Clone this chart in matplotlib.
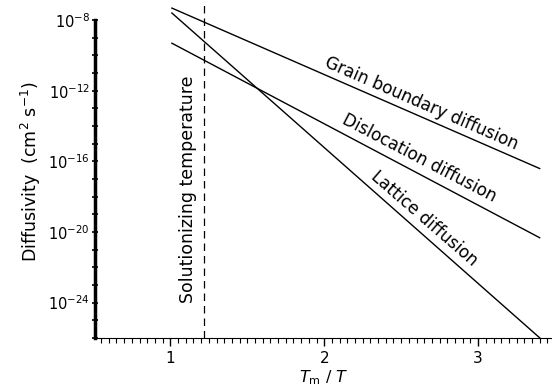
import numpy as np
import matplotlib.pyplot as plt
from matplotlib.ticker import FixedLocator, MultipleLocator, NullFormatter

# endpoints of the three lines (x = Tm/T, y = log10 diffusivity)
x_ends = [1.01, 3.40]
grain_boundary = [-7.32, -16.41]
dislocation = [-9.31, -20.33]
lattice = [-7.60, -26.0]
solution_temp = 1.22

line_names = ["Grain boundary diffusion", "Dislocation diffusion", "Lattice diffusion"]
label_x = [2.63, 2.62, 2.65]
label_y = [-12.72, -15.84, -19.25]
label_rot = [-23.5, -27.5, -41.0]

fig = plt.figure(figsize=(5.52, 3.91), dpi=100)
ax = fig.add_axes([0.172, 0.136, 0.828, 0.851])

for series in [grain_boundary, dislocation, lattice]:
    ax.plot(x_ends, 10.0 ** np.array(series), color="black", lw=1.0)

ax.axvline(solution_temp, color="black", lw=0.9, ls=(0, (6, 4)))
ax.text(solution_temp - 0.105, 10.0 ** -17.6, "Solutionizing temperature",
        rotation=90, ha="center", va="center", fontsize=12.5)

for name, tx, ty, rot in zip(line_names, label_x, label_y, label_rot):
    ax.text(tx, 10.0 ** ty, name, rotation=rot, ha="center", va="center",
            fontsize=12.2, rotation_mode="anchor")

ax.set_yscale("log")
ax.set_ylim(1e-26, 10 ** -7.15)
ax.set_xlim(0.51, 3.48)

ax.spines["top"].set_visible(False)
ax.spines["right"].set_visible(False)
ax.spines["left"].set_bounds(1e-26, 1e-8)
ax.spines["left"].set_linewidth(2.5)

ax.yaxis.set_major_locator(FixedLocator([1e-8, 1e-12, 1e-16, 1e-20, 1e-24]))
ax.yaxis.set_minor_locator(FixedLocator([10.0 ** k for k in range(-26, -7)]))
ax.yaxis.set_minor_formatter(NullFormatter())
ax.set_yticklabels(["$10^{-8}$", "$10^{-12}$", "$10^{-16}$", "$10^{-20}$", "$10^{-24}$"])
ax.tick_params(axis="y", which="both", direction="inout", length=5, width=1.2, labelsize=10.5, pad=1)

ax.xaxis.set_major_locator(FixedLocator([1, 2, 3]))
ax.xaxis.set_minor_locator(MultipleLocator(0.05))
ax.tick_params(axis="x", which="major", direction="out", length=6, width=1.0, labelsize=11)
ax.tick_params(axis="x", which="minor", direction="out", length=3.5, width=0.8)

ax.set_ylabel("Diffusivity  (cm$^2$ s$^{-1}$)", fontsize=12.5, labelpad=4)
ax.set_xlabel("$T_{\\mathrm{m}}$ / $T$", fontsize=11.5, labelpad=2)

fig.savefig("out.png", dpi=100)
